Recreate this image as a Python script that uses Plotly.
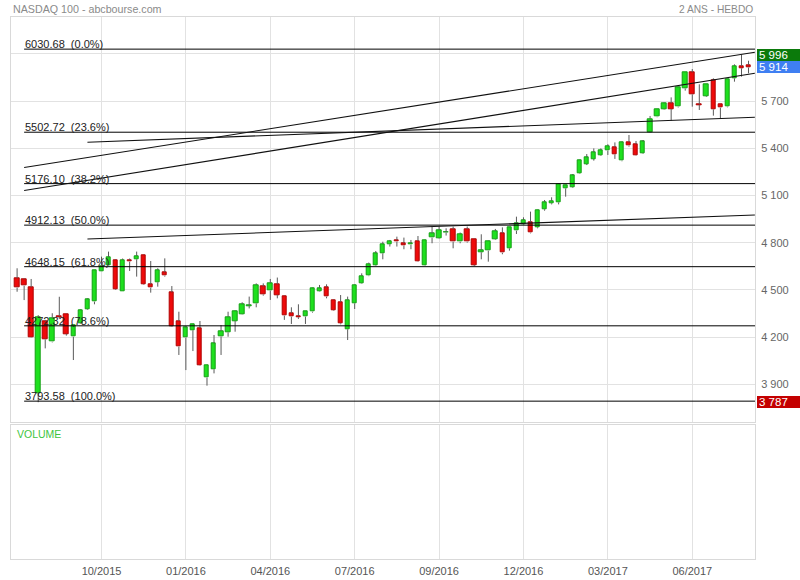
import pandas as pd
import plotly.graph_objects as go

# ---------------- data ----------------
FIRST_WEEK = "2015-08-03"          # first weekly candle
N_WEEKS = 105

OPEN = [4574, 4568, 4517, 3845, 4303, 4171, 4335, 4347, 4203, 4288,
        4377, 4426, 4616, 4655, 4691, 4489, 4690, 4695, 4722, 4536,
        4549, 4612, 4485, 4303, 4197, 4244, 4258, 3943, 3996, 4205,
        4231, 4303, 4345, 4398, 4415, 4521, 4496, 4536, 4462, 4352,
        4335, 4331, 4362, 4490, 4517, 4437, 4422, 4250, 4415, 4543,
        4591, 4659, 4733, 4791, 4818, 4797, 4788, 4812, 4655, 4833,
        4829, 4865, 4886, 4807, 4886, 4824, 4740, 4750, 4822, 4860,
        4765, 4877, 4918, 4928, 4898, 5013, 5051, 5057, 5146, 5152,
        5241, 5301, 5333, 5356, 5385, 5407, 5322, 5438, 5426, 5369,
        5502, 5601, 5648, 5686, 5665, 5781, 5883, 5680, 5733, 5830,
        5680, 5665, 5845, 5923, 5930]
HIGH = [4638, 4574, 4570, 4340, 4310, 4352, 4457, 4350, 4280, 4377,
        4447, 4625, 4712, 4744, 4695, 4700, 4700, 4744, 4725, 4684,
        4638, 4701, 4525, 4362, 4267, 4285, 4303, 4025, 4214, 4277,
        4362, 4370, 4422, 4458, 4542, 4542, 4570, 4579, 4465, 4390,
        4409, 4365, 4515, 4532, 4536, 4440, 4468, 4458, 4535, 4606,
        4674, 4748, 4807, 4818, 4839, 4833, 4818, 4843, 4820, 4903,
        4903, 4892, 4903, 4865, 4903, 4827, 4854, 4815, 4888, 4898,
        4900, 4966, 4962, 4998, 5010, 5072, 5089, 5177, 5168, 5237,
        5328, 5364, 5400, 5400, 5426, 5438, 5443, 5485, 5447, 5453,
        5606, 5652, 5692, 5724, 5792, 5885, 5904, 5807, 5810, 5845,
        5682, 5843, 5934, 5996, 5957]
LOW = [4489, 4436, 4195, 3787, 4129, 4167, 4320, 4210, 4055, 4284,
       4373, 4409, 4616, 4655, 4500, 4489, 4621, 4585, 4533, 4483,
       4521, 4585, 4265, 4087, 3991, 4112, 4017, 3892, 3970, 4087,
       4203, 4235, 4343, 4383, 4390, 4464, 4437, 4447, 4310, 4284,
       4316, 4284, 4356, 4488, 4447, 4370, 4282, 4182, 4379, 4540,
       4588, 4656, 4695, 4776, 4776, 4759, 4759, 4678, 4653, 4797,
       4826, 4846, 4765, 4797, 4801, 4653, 4695, 4680, 4818, 4727,
       4750, 4856, 4915, 4860, 4892, 5004, 5044, 5044, 5093, 5148,
       5238, 5294, 5322, 5352, 5358, 5333, 5318, 5411, 5352, 5365,
       5500, 5598, 5645, 5576, 5660, 5767, 5665, 5644, 5728, 5608,
       5587, 5661, 5824, 5856, 5877]
CLOSE = [4515, 4527, 4197, 4326, 4186, 4320, 4328, 4220, 4277, 4373,
         4441, 4623, 4648, 4708, 4504, 4691, 4680, 4716, 4536, 4515,
         4627, 4591, 4267, 4140, 4260, 4282, 4019, 4023, 4161, 4239,
         4328, 4366, 4409, 4402, 4532, 4472, 4543, 4468, 4337, 4331,
         4327, 4362, 4511, 4511, 4458, 4373, 4288, 4437, 4532, 4589,
         4666, 4733, 4791, 4812, 4807, 4782, 4797, 4680, 4818, 4860,
         4882, 4869, 4807, 4854, 4807, 4659, 4754, 4812, 4875, 4737,
         4898, 4924, 4945, 4864, 5008, 5057, 5066, 5174, 5165, 5229,
         5326, 5343, 5375, 5390, 5415, 5362, 5438, 5417, 5354, 5443,
         5587, 5650, 5686, 5650, 5788, 5883, 5743, 5676, 5807, 5648,
         5659, 5841, 5923, 5909, 5914]

# Fibonacci retracement levels
FIB_LEVELS = [6030.68, 5502.72, 5176.10, 4912.13, 4648.15, 4272.32, 3793.58]
FIB_PCT = ["0.0%", "23.6%", "38.2%", "50.0%", "61.8%", "78.6%", "100.0%"]
FIB_START_WEEK = 1

# trend lines: (start week, start price, end week, end price)
TREND_START_WEEK = [1, 1, 10, 10]
TREND_START_PRICE = [5278, 5132, 5439, 4824]
TREND_END_WEEK = [104.9, 104.9, 104.9, 104.9]
TREND_END_PRICE = [6011, 5877, 5598, 4977]

# axis ticks
Y_TICKS = [3900, 4200, 4500, 4800, 5100, 5400, 5700, 6000]
Y_TICK_LABELS = ["3 900", "4 200", "4 500", "4 800", "5 100", "5 400", "5 700", ""]
X_TICK_WEEKS = [12, 24, 36, 48, 60, 72, 84, 96]
X_TICK_LABELS = ["10/2015", "01/2016", "04/2016", "07/2016",
                 "09/2016", "12/2016", "03/2017", "06/2017"]

# right-hand value tags
TAG_VALUES = [5996, 5914, 3787]
TAG_TEXT = ["5 996", "5 914", "3 787"]
TAG_COLORS = ["#0b7a0b", "#3f7ff2", "#c40000"]

Y_RANGE = [3663, 6233]
X_RANGE_WEEKS = [-0.91, 104.92]

# ---------------- build ----------------
FONT = "Arial, Liberation Sans, sans-serif"
d0 = pd.Timestamp(FIRST_WEEK)
WEEK = pd.Timedelta(days=7)


def wk(i):
    return d0 + WEEK * i


dates = [wk(i) for i in range(N_WEEKS)]
xr = [wk(X_RANGE_WEEKS[0]), wk(X_RANGE_WEEKS[1])]

GREEN_FILL, GREEN_LINE = "#1ee01e", "#12a012"
RED_FILL, RED_LINE = "#ee0a0a", "#b00000"
WICK = "#5a5a5a"

fig = go.Figure()

# wicks (split around the body so they don't cross it)
wx, wy = [], []
for d, o, h, l, c in zip(dates, OPEN, HIGH, LOW, CLOSE):
    top, bot = max(o, c), min(o, c)
    if h > top:
        wx += [d, d, None]
        wy += [top, h, None]
    if l < bot:
        wx += [d, d, None]
        wy += [l, bot, None]
fig.add_trace(go.Scatter(x=wx, y=wy, mode="lines",
                         line=dict(color=WICK, width=1),
                         hoverinfo="skip", showlegend=False))

# bodies
up = [c >= o for o, c in zip(OPEN, CLOSE)]
fig.add_trace(go.Bar(
    x=dates,
    base=[min(o, c) for o, c in zip(OPEN, CLOSE)],
    y=[max(abs(c - o), 1.5) for o, c in zip(OPEN, CLOSE)],
    width=4.3 / 7.033 * 7 * 86400000,
    marker=dict(color=[GREEN_FILL if u else RED_FILL for u in up],
                line=dict(color=[GREEN_LINE if u else RED_LINE for u in up], width=1)),
    showlegend=False, hoverinfo="skip"))

# fibonacci lines
for lvl in FIB_LEVELS:
    fig.add_trace(go.Scatter(x=[wk(FIB_START_WEEK), xr[1]], y=[lvl, lvl],
                             mode="lines", line=dict(color="#000000", width=1),
                             hoverinfo="skip", showlegend=False))

# trend lines
for s, sp, e, ep in zip(TREND_START_WEEK, TREND_START_PRICE, TREND_END_WEEK, TREND_END_PRICE):
    fig.add_trace(go.Scatter(x=[wk(s), wk(e)], y=[sp, ep], mode="lines",
                             line=dict(color="#111111", width=1.1),
                             hoverinfo="skip", showlegend=False))

# empty volume panel
fig.add_trace(go.Scatter(x=[dates[0]], y=[None], xaxis="x2", yaxis="y2",
                         mode="lines", showlegend=False, hoverinfo="skip"))

W, H = 800, 580
xdom = [10.7 / W, 755 / W]
grid = "#e2e2e2"
frame = "#d9d9d9"
tickvals_x = [wk(i) for i in X_TICK_WEEKS]

fig.update_layout(
    width=W, height=H,
    margin=dict(l=0, r=0, t=0, b=0),
    paper_bgcolor="white", plot_bgcolor="white",
    font=dict(family=FONT, size=11, color="#555"),
    bargap=0,
    xaxis=dict(domain=xdom, range=xr, type="date", anchor="y",
               tickvals=tickvals_x, showticklabels=False,
               showgrid=True, gridcolor=grid, gridwidth=1,
               showline=True, mirror=True, linecolor=frame, linewidth=1,
               zeroline=False, ticks=""),
    yaxis=dict(domain=[1 - 421.7 / H, 1 - 17.3 / H], range=Y_RANGE,
               side="right", anchor="x",
               tickvals=Y_TICKS, ticktext=Y_TICK_LABELS,
               tickfont=dict(family=FONT, size=11, color="#666"),
               showgrid=True, gridcolor=grid, gridwidth=1,
               showline=True, mirror=True, linecolor=frame, linewidth=1,
               zeroline=False, ticks="", ticklabelstandoff=3),
    xaxis2=dict(domain=xdom, range=xr, type="date", anchor="y2",
                tickvals=tickvals_x, ticktext=X_TICK_LABELS,
                tickfont=dict(family=FONT, size=11, color="#555"),
                showgrid=True, gridcolor=grid, gridwidth=1,
                showline=True, mirror=True, linecolor=frame, linewidth=1,
                zeroline=False, ticks="", ticklabelstandoff=1),
    yaxis2=dict(domain=[1 - 559.3 / H, 1 - 425.3 / H], range=[0, 1],
                anchor="x2", showticklabels=False, showgrid=False,
                showline=True, mirror=True, linecolor=frame, linewidth=1,
                zeroline=False, ticks=""),
)

ann = []
ann.append(dict(xref="paper", yref="paper", x=10.7 / W, y=1 - 9.5 / H,
                xanchor="left", yanchor="middle", showarrow=False,
                text="NASDAQ 100 - abcbourse.com",
                font=dict(family=FONT, size=10.7, color="#8a8a8a")))
ann.append(dict(xref="paper", yref="paper", x=755 / W, y=1 - 9.5 / H,
                xanchor="right", yanchor="middle", showarrow=False,
                text="2 ANS - HEBDO",
                font=dict(family=FONT, size=10.2, color="#8a8a8a")))
ann.append(dict(xref="paper", yref="paper", x=14.5 / W, y=1 - 434 / H,
                xanchor="left", yanchor="middle", showarrow=False,
                text="VOLUME",
                font=dict(family=FONT, size=10.5, color="#3ec43e")))
for lvl, pct in zip(FIB_LEVELS, FIB_PCT):
    ann.append(dict(xref="x", yref="y", x=wk(FIB_START_WEEK), y=lvl,
                    xanchor="left", yanchor="bottom", showarrow=False,
                    text=f"{lvl:.2f}\u00a0\u00a0({pct})", borderpad=0, yshift=-2,
                    font=dict(family=FONT, size=11, color="#222")))
for v, t, col in zip(TAG_VALUES, TAG_TEXT, TAG_COLORS):
    ann.append(dict(xref="paper", yref="y", x=757 / W, y=v,
                    xanchor="left", yanchor="middle", showarrow=False,
                    text=t, align="left", width=39, height=8,
                    borderpad=2, borderwidth=0, bgcolor=col,
                    font=dict(family=FONT, size=11.5, color="white")))
fig.update_layout(annotations=ann)

fig.write_html(
    "out.html",
    config={"displayModeBar": False},
    post_script="document.body.style.margin='0px';document.body.style.overflow='hidden';",
)
